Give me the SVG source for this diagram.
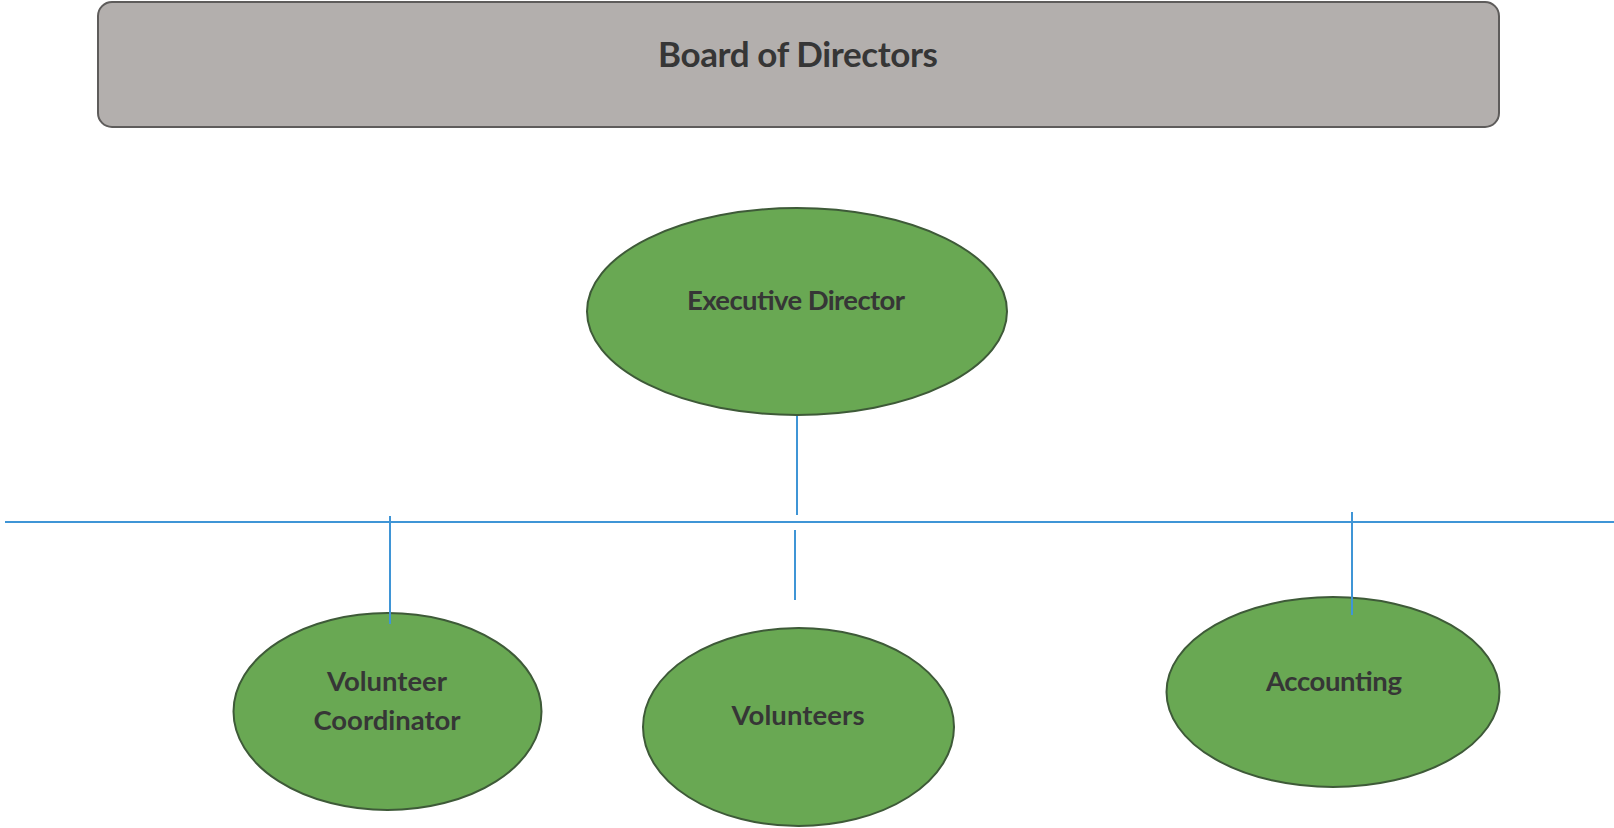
<svg xmlns="http://www.w3.org/2000/svg" width="1614" height="828" viewBox="0 0 1614 828">
  <style>
    .bg { fill: #ffffff; }
    .board { fill: #b3afad; stroke: #5e5c5b; stroke-width: 2; }
    .role { fill: #69a853; stroke: #3e5a38; stroke-width: 2; }
    .label { font-family: Lato, "Liberation Sans", sans-serif; font-weight: bold; fill: #363636; text-anchor: middle; }
    .big { font-size: 35px; }
    .small { font-size: 27.5px; }
    .link { stroke: #3f95d6; stroke-width: 2; fill: none; }
  </style>
  <rect class="bg" x="0" y="0" width="1614" height="828"/>

  <!-- reporting lines -->
  <g id="connectors">
    <line class="link" x1="797" y1="410" x2="797" y2="515"/>
    <line class="link" x1="5" y1="522" x2="1614" y2="522"/>
    <line class="link" x1="390" y1="516" x2="390" y2="624"/>
    <line class="link" x1="795" y1="530" x2="795" y2="600"/>
    <line class="link" x1="1352" y1="512" x2="1352" y2="615"/>
  </g>

  <g id="board">
    <rect class="board" x="98" y="2" width="1401" height="125" rx="14" ry="14"/>
    <text class="label big" x="798" y="67" textLength="280">Board of Directors</text>
  </g>

  <g id="executive-director">
    <ellipse class="role" cx="797" cy="311.5" rx="210" ry="103.5"/>
    <text class="label small" x="796" y="310" textLength="218">Executive Director</text>
  </g>

  <g id="volunteer-coordinator">
    <ellipse class="role" cx="387.5" cy="711.5" rx="154" ry="98.5"/>
    <text class="label small" x="387" y="691" textLength="120">Volunteer</text>
    <text class="label small" x="387" y="730" textLength="147">Coordinator</text>
  </g>

  <g id="volunteers">
    <ellipse class="role" cx="798.5" cy="727" rx="155.5" ry="99"/>
    <text class="label small" x="798" y="725" textLength="133">Volunteers</text>
  </g>

  <g id="accounting">
    <ellipse class="role" cx="1333" cy="692" rx="166.5" ry="95"/>
    <text class="label small" x="1334" y="691" textLength="136">Accounting</text>
  </g>

  <!-- line ends drawn over the ellipse tops -->
  <g id="connector-tips">
    <line class="link" x1="390" y1="612" x2="390" y2="624"/>
    <line class="link" x1="1352" y1="596" x2="1352" y2="615"/>
  </g>
</svg>
